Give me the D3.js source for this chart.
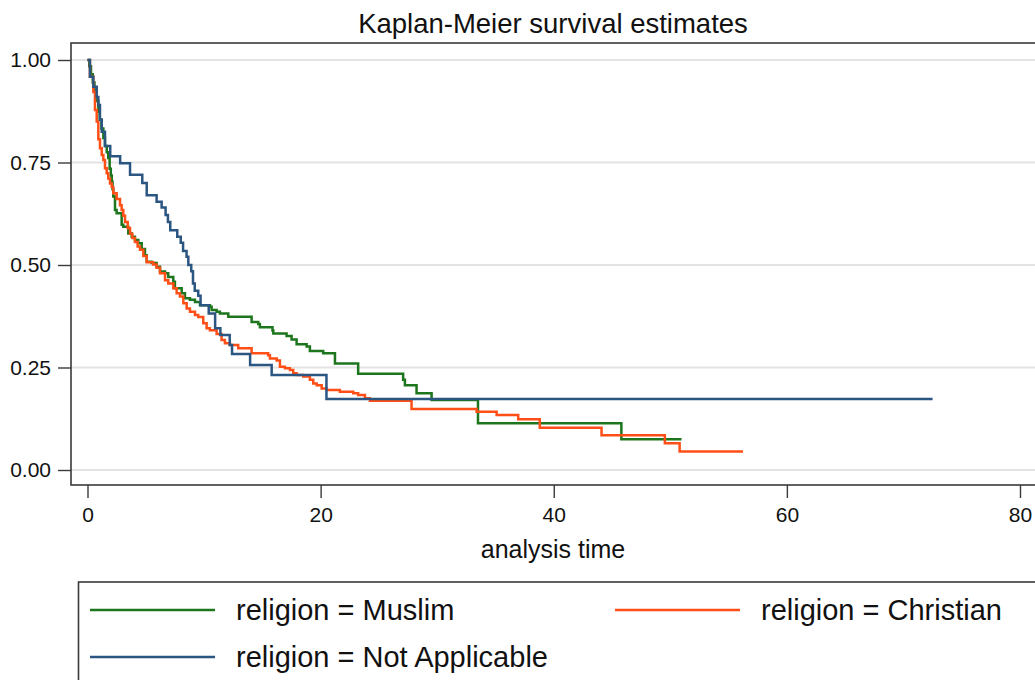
<!DOCTYPE html>
<html>
<head>
<meta charset="utf-8">
<script src="https://cdn.jsdelivr.net/npm/d3@7"></script>
<style>
  html, body { margin: 0; padding: 0; background: #fff; }
  svg { display: block; font-family: "Liberation Sans", Arial, Helvetica, sans-serif; }
</style>
</head>
<body>
<svg id="chart" width="1035" height="680"></svg>
<script>
// Kaplan-Meier step estimates by religion (time, survival)
const muslimTime = [0, 0.15, 0.3, 0.45, 0.6, 0.75, 0.93, 1.05, 1.2, 1.36, 1.5, 1.65, 1.78, 1.9, 2.0, 2.08, 2.15, 2.21, 2.36, 2.5, 2.93, 3.07, 3.5, 3.79, 4.07, 4.36, 4.65, 4.93, 5.08, 5.5, 5.93, 6.22, 6.65, 6.93, 7.36, 7.5, 8.08, 8.36, 8.79, 9.22, 9.65, 10.5, 10.65, 11.08, 11.36, 12.08, 14.08, 14.65, 14.79, 15.87, 15.94, 17.08, 17.51, 17.94, 18.8, 19.08, 20.22, 21.23, 23.22, 27.08, 27.23, 28.23, 29.52, 33.5, 45.8, 50.96];
const muslimSurv = [1, 0.985, 0.965, 0.945, 0.925, 0.9, 0.874, 0.855, 0.833, 0.81, 0.79, 0.775, 0.761, 0.735, 0.718, 0.703, 0.685, 0.667, 0.634, 0.626, 0.598, 0.593, 0.577, 0.569, 0.561, 0.553, 0.539, 0.524, 0.508, 0.505, 0.496, 0.484, 0.48, 0.471, 0.459, 0.443, 0.431, 0.419, 0.415, 0.41, 0.402, 0.398, 0.39, 0.386, 0.382, 0.374, 0.361, 0.356, 0.348, 0.34, 0.333, 0.327, 0.318, 0.307, 0.301, 0.29, 0.285, 0.26, 0.235, 0.22, 0.207, 0.187, 0.171, 0.114, 0.075, 0.075];

const christianTime = [0, 0.21, 0.5, 0.64, 0.79, 0.93, 1.07, 1.22, 1.36, 1.5, 1.65, 1.78, 1.93, 2.08, 2.21, 2.5, 2.79, 2.93, 3.07, 3.22, 3.45, 3.65, 3.85, 4.07, 4.3, 4.5, 4.79, 5.08, 5.64, 5.93, 6.22, 6.65, 6.93, 7.36, 7.65, 7.93, 8.22, 8.51, 8.79, 9.22, 9.5, 9.93, 10.22, 10.5, 11.08, 11.5, 11.79, 12.22, 12.93, 14.08, 15.5, 15.65, 16.23, 16.51, 16.94, 17.37, 17.65, 17.94, 18.51, 19.08, 19.37, 19.66, 20.09, 20.51, 21.65, 22.8, 23.22, 23.8, 24.23, 27.8, 33.38, 35.1, 36.95, 38.8, 44.1, 49.53, 50.8, 56.24];
const christianSurv = [1, 0.959, 0.922, 0.878, 0.85, 0.807, 0.785, 0.768, 0.756, 0.736, 0.724, 0.711, 0.699, 0.69, 0.675, 0.661, 0.646, 0.634, 0.62, 0.605, 0.59, 0.576, 0.566, 0.556, 0.545, 0.537, 0.522, 0.507, 0.501, 0.493, 0.48, 0.463, 0.455, 0.443, 0.431, 0.423, 0.407, 0.394, 0.386, 0.378, 0.373, 0.358, 0.346, 0.341, 0.332, 0.317, 0.309, 0.305, 0.297, 0.285, 0.28, 0.272, 0.267, 0.252, 0.248, 0.244, 0.236, 0.232, 0.228, 0.22, 0.211, 0.207, 0.199, 0.195, 0.191, 0.187, 0.183, 0.175, 0.169, 0.149, 0.142, 0.134, 0.124, 0.103, 0.085, 0.065, 0.045, 0.045];

const notApplicableTime = [0, 0.21, 0.5, 0.79, 0.93, 1.07, 1.22, 1.5, 1.95, 2.8, 3.65, 4.7, 5.08, 5.93, 6.36, 6.7, 6.9, 7.1, 7.7, 8.0, 8.2, 8.5, 8.65, 8.9, 9.05, 9.2, 9.5, 9.7, 10.4, 10.95, 11.4, 12.2, 12.4, 13.95, 15.8, 20.5, 72.5];
const notApplicableSurv = [1, 0.959, 0.935, 0.91, 0.89, 0.854, 0.825, 0.79, 0.765, 0.748, 0.72, 0.70, 0.67, 0.654, 0.64, 0.622, 0.605, 0.585, 0.569, 0.554, 0.534, 0.52, 0.50, 0.485, 0.455, 0.437, 0.425, 0.402, 0.382, 0.346, 0.329, 0.305, 0.283, 0.256, 0.232, 0.173, 0.173];

const seriesLabels = ["religion = Muslim", "religion = Christian", "religion = Not Applicable"];
const seriesColors = ["#1d761d", "#ff4f16", "#2c5682"];
const yTicks = [0, 0.25, 0.5, 0.75, 1];
const xTicks = [0, 20, 40, 60, 80];
const titleText = "Kaplan-Meier survival estimates";
const xTitle = "analysis time";

const series = [
  { label: seriesLabels[0], color: seriesColors[0], pts: muslimTime.map((t, i) => [t, muslimSurv[i]]) },
  { label: seriesLabels[1], color: seriesColors[1], pts: christianTime.map((t, i) => [t, christianSurv[i]]) },
  { label: seriesLabels[2], color: seriesColors[2], pts: notApplicableTime.map((t, i) => [t, notApplicableSurv[i]]) }
];

const svg = d3.select("#chart");
const W = 1035, H = 680;
svg.append("rect").attr("width", W).attr("height", H).attr("fill", "#fff");

// plot region (frame runs past the right edge of the canvas)
const frame = { left: 71, top: 43, right: 1045, bottom: 485 };
const x = d3.scaleLinear().domain([0, 80]).range([87.5, 1020]);
const y = d3.scaleLinear().domain([0, 1]).range([470, 60]);

// title
svg.append("text")
  .attr("x", 553).attr("y", 33)
  .attr("text-anchor", "middle")
  .attr("font-size", 27.5)
  .attr("fill", "#111")
  .text(titleText);

// gridlines
svg.append("g").selectAll("line").data(yTicks).join("line")
  .attr("x1", frame.left).attr("x2", W)
  .attr("y1", d => y(d)).attr("y2", d => y(d))
  .attr("stroke", "#e3e3e3").attr("stroke-width", 2);

// survival curves
const line = d3.line().x(d => x(d[0])).y(d => y(d[1])).curve(d3.curveStepAfter);
svg.append("g").selectAll("path").data(series).join("path")
  .attr("d", d => line(d.pts))
  .attr("fill", "none")
  .attr("stroke", d => d.color)
  .attr("stroke-width", 2.5)
  .attr("stroke-linejoin", "miter");

// frame
svg.append("rect")
  .attr("x", frame.left).attr("y", frame.top)
  .attr("width", frame.right - frame.left).attr("height", frame.bottom - frame.top)
  .attr("fill", "none").attr("stroke", "#3a3a3a").attr("stroke-width", 1.6);

// y axis
const yAxis = svg.append("g")
  .attr("transform", `translate(${frame.left},0)`)
  .call(d3.axisLeft(y).tickValues(yTicks).tickFormat(d3.format(".2f")).tickSize(13).tickPadding(7));
yAxis.select(".domain").remove();
yAxis.selectAll(".tick line").attr("stroke", "#3a3a3a").attr("stroke-width", 1.4);
yAxis.selectAll(".tick text").attr("font-size", 21).attr("fill", "#111")
  .attr("font-family", "'Liberation Sans', Arial, sans-serif");

// x axis
const xAxis = svg.append("g")
  .attr("transform", `translate(0,${frame.bottom})`)
  .call(d3.axisBottom(x).tickValues(xTicks).tickFormat(d3.format("d")).tickSize(13).tickPadding(9));
xAxis.select(".domain").remove();
xAxis.selectAll(".tick line").attr("stroke", "#3a3a3a").attr("stroke-width", 1.4);
xAxis.selectAll(".tick text").attr("font-size", 21).attr("fill", "#111")
  .attr("font-family", "'Liberation Sans', Arial, sans-serif");

// x axis title
svg.append("text")
  .attr("x", 553).attr("y", 558)
  .attr("text-anchor", "middle")
  .attr("font-size", 25)
  .attr("fill", "#111")
  .text(xTitle);

// legend
const legend = svg.append("g");
legend.append("rect")
  .attr("x", 78.5).attr("y", 582)
  .attr("width", 1000).attr("height", 200)
  .attr("fill", "#fff").attr("stroke", "#3a3a3a").attr("stroke-width", 1.6);

const legendPos = [
  { lx: 90, ty: 610 },
  { lx: 615, ty: 610 },
  { lx: 90, ty: 657 }
];
series.forEach((s, i) => {
  const p = legendPos[i];
  legend.append("line")
    .attr("x1", p.lx).attr("x2", p.lx + 125)
    .attr("y1", p.ty).attr("y2", p.ty)
    .attr("stroke", s.color).attr("stroke-width", 2.5);
  legend.append("text")
    .attr("x", p.lx + 146).attr("y", p.ty + 10)
    .attr("font-size", 29)
    .attr("fill", "#111")
    .text(s.label);
});
</script>
</body>
</html>
